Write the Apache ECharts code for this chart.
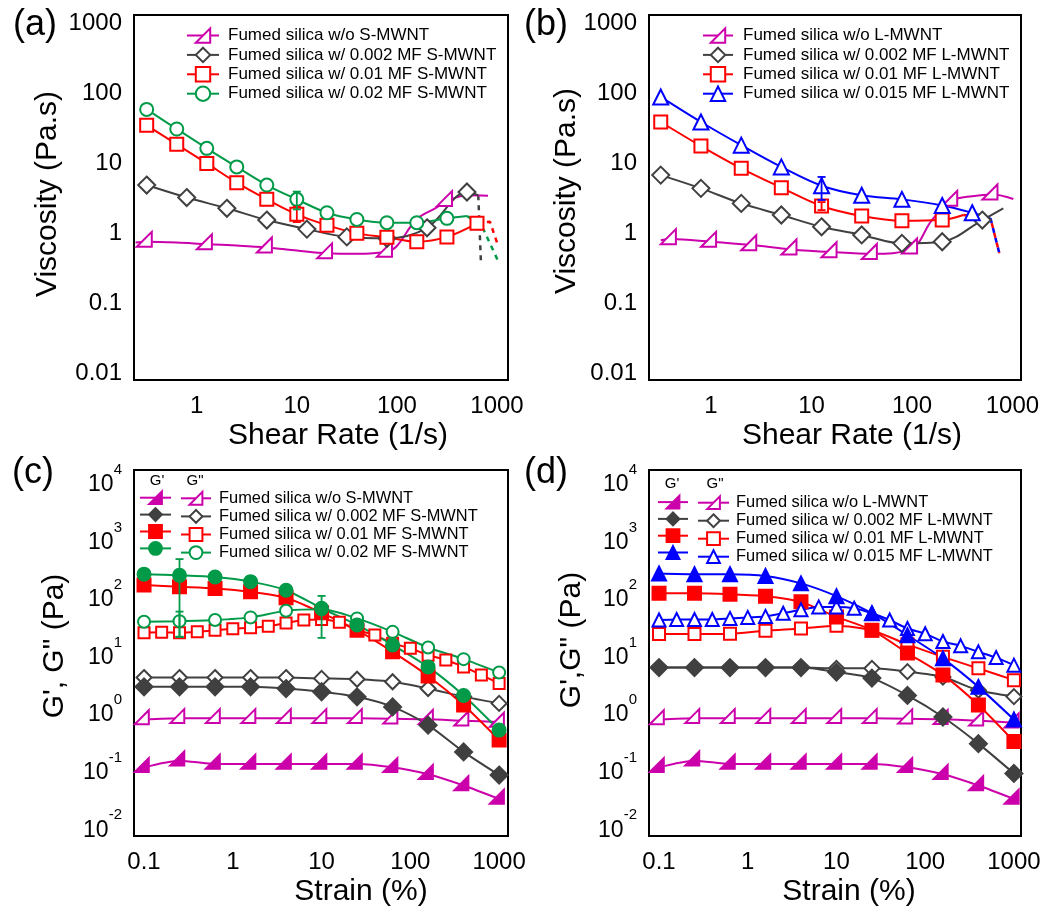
<!DOCTYPE html>
<html><head><meta charset="utf-8">
<script src="https://cdn.jsdelivr.net/npm/echarts@6/dist/echarts.min.js"></script>
<style>html,body{margin:0;padding:0;background:#fff}#c{width:1045px;height:907px}</style>
</head><body><div id="c"></div>
<script>
// ================= DATA =================
// Tick labels
const VISC_TICKS = ['0.01', '0.1', '1', '10', '100', '1000'];      // exponents -2..3
const SHEAR_TICKS = ['1', '10', '100', '1000'];                     // exponents 0..3
const STRAIN_TICKS = ['0.1', '1', '10', '100', '1000'];             // exponents -1..3
const MODULUS_EXPS = ['-2', '-1', '0', '1', '2', '3', '4'];         // 10^-2 .. 10^4

// Legend names
const A_NAMES = ['Fumed silica w/o S-MWNT', 'Fumed silica w/ 0.002 MF S-MWNT', 'Fumed silica w/ 0.01 MF S-MWNT', 'Fumed silica w/ 0.02 MF S-MWNT'];
const B_NAMES = ['Fumed silica w/o L-MWNT', 'Fumed silica w/ 0.002 MF L-MWNT', 'Fumed silica w/ 0.01 MF L-MWNT', 'Fumed silica w/ 0.015 MF L-MWNT'];

// ---- (a) viscosity vs shear rate, S-MWNT ----
const A_PINK_X = [0.316, 1.26, 5.01, 20, 79.4, 316];
const A_PINK_Y = [0.76, 0.70, 0.63, 0.52, 0.55, 2.9];
const A_PINK_CURVE_X = [0.245, 0.631, 2.51, 10, 39.8, 100, 158, 251, 501, 813];
const A_PINK_CURVE_Y = [0.74, 0.74, 0.67, 0.57, 0.51, 0.66, 1.6, 2.35, 3.5, 3.45];

const A_GRAY_X = [0.316, 0.794, 2.0, 5.01, 12.6, 31.6, 79.4, 200, 501];
const A_GRAY_Y = [4.9, 3.25, 2.28, 1.55, 1.15, 0.89, 0.85, 1.2, 3.9];
const A_GRAY_CURVE_X = [650];
const A_GRAY_CURVE_Y = [3.5];
const A_GRAY_DROP_X = [650, 690];
const A_GRAY_DROP_Y = [3.5, 0.41];

const A_RED_X = [0.316, 0.631, 1.26, 2.51, 5.01, 10, 20, 39.8, 79.4, 158, 316, 631];
const A_RED_Y = [35, 18.7, 10, 5.3, 3.06, 1.87, 1.31, 1.0, 0.88, 0.76, 0.89, 1.39];
const A_RED_DROP_X = [631, 850, 1020];
const A_RED_DROP_Y = [1.39, 1.47, 0.68];
const A_RED_ERR_X = [10];
const A_RED_ERR_LO = [1.45];
const A_RED_ERR_HI = [2.4];

const A_GREEN_X = [0.316, 0.631, 1.26, 2.51, 5.01, 10, 20, 39.8, 79.4, 158, 316];
const A_GREEN_Y = [59, 31, 16.4, 8.9, 4.9, 3.06, 1.97, 1.58, 1.42, 1.42, 1.64];
const A_GREEN_CURVE_X = [500];
const A_GREEN_CURVE_Y = [1.77];
const A_GREEN_DROP_X = [500, 700, 1020];
const A_GREEN_DROP_Y = [1.77, 1.31, 0.41];
const A_GREEN_ERR_X = [10];
const A_GREEN_ERR_LO = [2.2];
const A_GREEN_ERR_HI = [3.95];

// ---- (b) viscosity vs shear rate, L-MWNT ----
const B_PINK_X = [0.398, 1.0, 2.51, 6.31, 15.8, 39.8, 100, 251, 631];
const B_PINK_Y = [0.83, 0.76, 0.68, 0.59, 0.54, 0.51, 0.61, 2.93, 3.6];
const B_PINK_CURVE_X = [0.316, 158, 398, 1020];
const B_PINK_CURVE_Y = [0.8, 1.55, 3.4, 3.1];

const B_GRAY_X = [0.316, 0.794, 2.0, 5.01, 12.6, 31.6, 79.4, 200, 501];
const B_GRAY_Y = [6.8, 4.4, 2.68, 1.83, 1.24, 0.95, 0.72, 0.76, 1.55];
const B_GRAY_CURVE_X = [810];
const B_GRAY_CURVE_Y = [2.28];

const B_RED_X = [0.316, 0.794, 2.0, 5.01, 12.6, 31.6, 79.4, 200];
const B_RED_Y = [39, 17.7, 8.5, 4.5, 2.46, 1.77, 1.51, 1.55];
const B_RED_CURVE_X = [324];
const B_RED_CURVE_Y = [1.83];
const B_RED_TAIL_X = [324, 605];
const B_RED_TAIL_Y = [1.83, 1.64];
const B_RED_DROP_X = [605, 740];
const B_RED_DROP_Y = [1.64, 0.52];
const B_RED_ERR_X = [12.6];
const B_RED_ERR_LO = [2.15];
const B_RED_ERR_HI = [2.8];

const B_BLUE_X = [0.316, 0.794, 2.0, 5.01, 12.6, 31.6, 79.4, 200, 398];
const B_BLUE_Y = [89, 39, 18.2, 8.9, 4.8, 3.5, 3.06, 2.5, 1.97];
const B_BLUE_CURVE_X = [605];
const B_BLUE_CURVE_Y = [1.64];
const B_BLUE_DROP_X = [605, 740];
const B_BLUE_DROP_Y = [1.64, 0.52];
const B_BLUE_ERR_X = [12.6];
const B_BLUE_ERR_LO = [3.0];
const B_BLUE_ERR_HI = [6.4];

// ---- (c),(d) strain sweeps ----
const STRAIN_11 = [0.1, 0.251, 0.631, 1.585, 3.98, 10, 25.1, 63.1, 158.5, 398, 1000];
const STRAIN_21 = [0.1, 0.158, 0.251, 0.398, 0.631, 1.0, 1.585, 2.51, 3.98, 6.31, 10, 15.85, 25.1, 39.8, 63.1, 100, 158.5, 251, 398, 631, 1000];

const C_PINK_GP  = [0.124, 0.162, 0.142, 0.142, 0.142, 0.142, 0.142, 0.124, 0.094, 0.06, 0.035];
const C_PINK_GPP = [0.84, 0.88, 0.88, 0.88, 0.88, 0.88, 0.88, 0.87, 0.85, 0.8, 0.76];
const C_GRAY_GP  = [3.1, 3.1, 3.1, 3.1, 2.9, 2.55, 2.08, 1.39, 0.67, 0.23, 0.091];
const C_GRAY_GPP = [4.5, 4.5, 4.5, 4.5, 4.5, 4.35, 4.2, 3.8, 2.9, 2.1, 1.6];
const C_RED_GP   = [182, 170, 159, 139, 110, 60, 30, 12.6, 4.8, 1.5, 0.37];
const C_RED_GPP  = [27, 27.5, 27, 28, 30, 31.6, 33, 35, 40, 45, 46, 41, 30, 24.6, 17.7, 14.5, 11, 9.1, 6.9, 5.0, 3.56]; // 21 pts
const C_GREEN_GP  = [282, 269, 251, 209, 148, 72, 37, 16.6, 6.9, 2.2, 0.55];
const C_GREEN_GPP = [42, 43, 45, 50, 65, 69, 48, 28, 15, 9.4, 5.5];
const C_GREEN_GP_ERR_X  = [0.251, 10];
const C_GREEN_GP_ERR_LO = [23, 22];
const C_GREEN_GP_ERR_HI = [515, 118];
const C_GREEN_GPP_ERR_X  = [0.251];
const C_GREEN_GPP_ERR_LO = [23];
const C_GREEN_GPP_ERR_HI = [63];

const D_PINK_GP  = [0.124, 0.162, 0.142, 0.142, 0.142, 0.142, 0.142, 0.124, 0.094, 0.06, 0.035];
const D_PINK_GPP = [0.84, 0.88, 0.88, 0.88, 0.88, 0.88, 0.88, 0.87, 0.85, 0.8, 0.74];
const D_GRAY_GP  = [6.7, 6.7, 6.7, 6.7, 6.7, 5.6, 4.4, 2.2, 0.93, 0.32, 0.097];
const D_GRAY_GPP = [6.7, 6.7, 6.7, 6.7, 6.7, 6.5, 6.5, 5.7, 4.6, 2.7, 2.1];
const D_RED_GP   = [131, 131, 126, 117, 93, 51, 30, 12, 5, 1.5, 0.35];
const D_RED_GPP  = [25.6, 25.6, 26, 29.4, 32, 35.7, 29.5, 17, 10.3, 6.5, 4.06];
const D_BLUE_GP  = [290, 282, 282, 263, 195, 117, 59, 24.5, 9.7, 3.1, 0.84];
const D_BLUE_GPP = [45, 46, 46, 46, 48, 50, 52, 59, 68, 76, 76, 72, 59, 45, 32, 26, 19, 16, 12.6, 10, 7.4]; // 21 pts

// ================= STYLE / LAYOUT =================
const FONT = '"Liberation Sans", Arial, Helvetica, sans-serif';
const PINK = '#cc00aa', GRAY = '#404040', RED = '#ff0000', GREEN = '#009a48', BLUE = '#0000ff';
const RTRI = 'path://M0,10L10,0L10,10Z';
const LW = 2;

const GRIDS = [
  { left: 134, top: 15, width: 374, height: 365 },
  { left: 649, top: 15, width: 372, height: 365 },
  { left: 134, top: 470, width: 374, height: 366 },
  { left: 649, top: 470, width: 372, height: 366 }
];
const XR = [[-0.627, 3.11], [-0.617, 3.085], [-1.113, 3.10], [-1.113, 3.08]];
const YR = [[-2.095, 3.12], [-2.095, 3.12], [-2.10, 4.26], [-2.10, 4.26]];

function isPow(v) { const e = Math.log10(v); return Math.abs(e - Math.round(e)) < 1e-6 ? Math.round(e) : null; }

function pairs(xs, ys) { return xs.map((x, i) => [x, ys[i]]); }
function withCurve(mx, my, cx, cy) {
  const a = mx.map((x, i) => ({ value: [x, my[i]] }));
  const b = (cx || []).map((x, i) => ({ value: [x, cy[i]], symbol: 'none' }));
  return a.concat(b).sort((p, q) => p.value[0] - q.value[0]);
}

function lineS(name, gi, data, color, symbol, size, hollow, extra) {
  const s = {
    type: 'line', name: name, xAxisIndex: gi, yAxisIndex: gi, data: data,
    smooth: 0.35, symbol: symbol, symbolSize: size, showAllSymbol: true,
    lineStyle: { color: color, width: LW },
    itemStyle: { color: hollow ? '#fff' : color, borderColor: color, borderWidth: LW },
    emphasis: { disabled: true }, animation: false, clip: true, z: 3
  };
  if (symbol === RTRI) { s.symbolOffset = ['-16%', '-16%']; s.symbolKeepAspect = true; }
  return Object.assign(s, extra || {});
}
function dropS(name, gi, xs, ys, color, dashOffset) {
  return {
    type: 'line', name: name, xAxisIndex: gi, yAxisIndex: gi, data: pairs(xs, ys),
    symbol: 'none', smooth: false,
    lineStyle: { color: color, width: 2.5, type: [5, 5], dashOffset: dashOffset || 0 },
    emphasis: { disabled: true }, animation: false, z: 2
  };
}
function errS(name, gi, xs, lo, hi, color) {
  return {
    type: 'custom', name: name, xAxisIndex: gi, yAxisIndex: gi,
    data: xs.map((x, i) => [x, lo[i], hi[i]]),
    encode: { x: 0, y: [1, 2] }, animation: false, z: 4,
    renderItem: function (params, api) {
      const x = api.value(0);
      const p1 = api.coord([x, api.value(1)]);
      const p2 = api.coord([x, api.value(2)]);
      const w = 4, st = { stroke: color, lineWidth: 1.8 };
      return { type: 'group', children: [
        { type: 'line', shape: { x1: p1[0], y1: p1[1], x2: p2[0], y2: p2[1] }, style: st },
        { type: 'line', shape: { x1: p1[0] - w, y1: p1[1], x2: p1[0] + w, y2: p1[1] }, style: st },
        { type: 'line', shape: { x1: p2[0] - w, y1: p2[1], x2: p2[0] + w, y2: p2[1] }, style: st }
      ] };
    }
  };
}

const labelBase = { color: '#000', fontFamily: FONT, fontSize: 24 };
function xAxis(gi, ticks, firstExp) {
  return {
    type: 'log', logBase: 10, gridIndex: gi, position: 'bottom',
    min: Math.pow(10, XR[gi][0]), max: Math.pow(10, XR[gi][1]),
    splitNumber: 5,
    axisLine: { show: false }, axisTick: { show: false }, splitLine: { show: false },
    axisLabel: Object.assign({}, labelBase, { margin: 14, showMinLabel: true, showMaxLabel: true,
      formatter: function (v) { const e = isPow(v); if (e === null) return ''; const t = ticks[e - firstExp]; return t === undefined ? '' : t; } })
  };
}
function yAxisVisc(gi) {
  return {
    type: 'log', logBase: 10, gridIndex: gi,
    min: Math.pow(10, YR[gi][0]), max: Math.pow(10, YR[gi][1]), splitNumber: 6,
    axisLine: { show: false }, axisTick: { show: false }, splitLine: { show: false },
    axisLabel: Object.assign({}, labelBase, { margin: 12,
      formatter: function (v) { const e = isPow(v); if (e === null) return ''; const t = VISC_TICKS[e + 2]; return t === undefined ? '' : t; } })
  };
}
function yAxisMod(gi) {
  return {
    type: 'log', logBase: 10, gridIndex: gi,
    min: Math.pow(10, YR[gi][0]), max: Math.pow(10, YR[gi][1]), splitNumber: 7,
    axisLine: { show: false }, axisTick: { show: false }, splitLine: { show: false },
    axisLabel: { margin: 12, color: '#000', fontFamily: FONT,
      formatter: function (v) { const e = isPow(v); if (e === null) return ''; const t = MODULUS_EXPS[e + 2]; return t === undefined ? '' : '{b|10}{s|' + t + '}'; },
      rich: {
        b: { fontSize: 23, fontFamily: FONT, color: '#000' },
        s: { fontSize: 15, fontFamily: FONT, color: '#000', padding: [0, 0, 30, 0] }
      } }
  };
}

const series = [];
// (a)
series.push(lineS(A_NAMES[0], 0, withCurve(A_PINK_X, A_PINK_Y, A_PINK_CURVE_X, A_PINK_CURVE_Y), PINK, RTRI, 15, true));
series.push(dropS('a_gray_drop', 0, A_GRAY_DROP_X, A_GRAY_DROP_Y, GRAY));
series.push(lineS(A_NAMES[1], 0, withCurve(A_GRAY_X, A_GRAY_Y, A_GRAY_CURVE_X, A_GRAY_CURVE_Y), GRAY, 'diamond', 17, true));
series.push(dropS('a_red_drop', 0, A_RED_DROP_X, A_RED_DROP_Y, RED));
series.push(errS('a_red_err', 0, A_RED_ERR_X, A_RED_ERR_LO, A_RED_ERR_HI, RED));
series.push(lineS(A_NAMES[2], 0, withCurve(A_RED_X, A_RED_Y), RED, 'rect', 13, true));
series.push(dropS('a_green_drop', 0, A_GREEN_DROP_X, A_GREEN_DROP_Y, GREEN));
series.push(errS('a_green_err', 0, A_GREEN_ERR_X, A_GREEN_ERR_LO, A_GREEN_ERR_HI, GREEN));
series.push(lineS(A_NAMES[3], 0, withCurve(A_GREEN_X, A_GREEN_Y, A_GREEN_CURVE_X, A_GREEN_CURVE_Y), GREEN, 'circle', 13, true));
// (b)
series.push(lineS(B_NAMES[0], 1, withCurve(B_PINK_X, B_PINK_Y, B_PINK_CURVE_X, B_PINK_CURVE_Y), PINK, RTRI, 15, true));
series.push(lineS(B_NAMES[1], 1, withCurve(B_GRAY_X, B_GRAY_Y, B_GRAY_CURVE_X, B_GRAY_CURVE_Y), GRAY, 'diamond', 17, true));
series.push(dropS('b_red_tail', 1, B_RED_TAIL_X, B_RED_TAIL_Y, RED));
series.push(errS('b_red_err', 1, B_RED_ERR_X, B_RED_ERR_LO, B_RED_ERR_HI, RED));
series.push(lineS(B_NAMES[2], 1, withCurve(B_RED_X, B_RED_Y, B_RED_CURVE_X, B_RED_CURVE_Y), RED, 'rect', 13, true));
series.push(dropS('b_blue_drop', 1, B_BLUE_DROP_X, B_BLUE_DROP_Y, BLUE, 0));
series.push(dropS('b_red_drop', 1, B_RED_DROP_X, B_RED_DROP_Y, RED, 5));
series.push(errS('b_blue_err', 1, B_BLUE_ERR_X, B_BLUE_ERR_LO, B_BLUE_ERR_HI, BLUE));
series.push(lineS(B_NAMES[3], 1, withCurve(B_BLUE_X, B_BLUE_Y, B_BLUE_CURVE_X, B_BLUE_CURVE_Y), BLUE, 'triangle', 15, true));
// (c)
const sm = { smooth: 0.25 };
series.push(lineS(A_NAMES[0], 2, pairs(STRAIN_11, C_PINK_GPP), PINK, RTRI, 14, true, sm));
series.push(lineS("c_gp_0", 2, pairs(STRAIN_11, C_PINK_GP), PINK, RTRI, 14, false, sm));
series.push(lineS(A_NAMES[1], 2, pairs(STRAIN_11, C_GRAY_GPP), GRAY, 'diamond', 15, true, sm));
series.push(lineS("c_gp_1", 2, pairs(STRAIN_11, C_GRAY_GP), GRAY, 'diamond', 17, false, sm));
series.push(lineS(A_NAMES[2], 2, pairs(STRAIN_21, C_RED_GPP), RED, 'rect', 11, true, sm));
series.push(lineS("c_gp_2", 2, pairs(STRAIN_11, C_RED_GP), RED, 'rect', 13, false, sm));
series.push(errS('c_green_err2', 2, C_GREEN_GPP_ERR_X, C_GREEN_GPP_ERR_LO, C_GREEN_GPP_ERR_HI, GREEN));
series.push(lineS(A_NAMES[3], 2, pairs(STRAIN_11, C_GREEN_GPP), GREEN, 'circle', 12, true, sm));
series.push(errS('c_green_err1', 2, C_GREEN_GP_ERR_X, C_GREEN_GP_ERR_LO, C_GREEN_GP_ERR_HI, GREEN));
series.push(lineS("c_gp_3", 2, pairs(STRAIN_11, C_GREEN_GP), GREEN, 'circle', 13, false, sm));
// (d)
series.push(lineS(B_NAMES[0], 3, pairs(STRAIN_11, D_PINK_GPP), PINK, RTRI, 14, true, sm));
series.push(lineS("d_gp_0", 3, pairs(STRAIN_11, D_PINK_GP), PINK, RTRI, 14, false, sm));
series.push(lineS(B_NAMES[1], 3, pairs(STRAIN_11, D_GRAY_GPP), GRAY, 'diamond', 15, true, sm));
series.push(lineS("d_gp_1", 3, pairs(STRAIN_11, D_GRAY_GP), GRAY, 'diamond', 17, false, sm));
series.push(lineS(B_NAMES[2], 3, pairs(STRAIN_11, D_RED_GPP), RED, 'rect', 12, true, sm));
series.push(lineS("d_gp_2", 3, pairs(STRAIN_11, D_RED_GP), RED, 'rect', 13, false, sm));
series.push(lineS(B_NAMES[3], 3, pairs(STRAIN_21, D_BLUE_GPP), BLUE, 'triangle', 13, true, sm));
series.push(lineS("d_gp_3", 3, pairs(STRAIN_11, D_BLUE_GP), BLUE, 'triangle', 14, false, sm));

function legend(names, left, top, itemW, itemH, gap, fs, padL, noText) {
  return {
    data: names, orient: 'vertical', left: left, top: top, padding: 0,
    itemWidth: itemW, itemHeight: itemH, itemGap: gap, selectedMode: false,
    textStyle: { fontSize: fs, fontFamily: FONT, color: '#000', lineHeight: itemH, padding: [0, 0, 0, padL] },
    formatter: noText ? function () { return ''; } : '{name}'
  };
}

function txt(x, y, s, size, rot) {
  return { type: 'text', x: x, y: y, rotation: rot || 0, silent: true,
    style: { text: s, fontSize: size, fontFamily: FONT, fill: '#000', align: 'center', verticalAlign: 'middle' } };
}

const option = {
  backgroundColor: '#fff',
  animation: false,
  grid: GRIDS.map(g => Object.assign({ show: true, borderColor: '#000', borderWidth: 2, backgroundColor: 'transparent', containLabel: false, outerBoundsMode: 'none' }, g)),
  xAxis: [xAxis(0, SHEAR_TICKS, 0), xAxis(1, SHEAR_TICKS, 0), xAxis(2, STRAIN_TICKS, -1), xAxis(3, STRAIN_TICKS, -1)],
  yAxis: [yAxisVisc(0), yAxisVisc(1), yAxisMod(2), yAxisMod(3)],
  legend: [
    legend(A_NAMES, 186, 26.5, 32, 18, 1.4, 17, 4, false),
    legend(B_NAMES, 702, 26.5, 30, 18, 1.4, 17, 5, false),
    legend(['c_gp_0', 'c_gp_1', 'c_gp_2', 'c_gp_3'], 139, 490.3, 31, 16, 2.1, 16.4, 0, true),
    legend(A_NAMES, 180, 490.3, 30, 16, 2.1, 16.4, 3, false),
    legend(['d_gp_0', 'd_gp_1', 'd_gp_2', 'd_gp_3'], 657, 494.7, 30, 16, 2.0, 16.4, 0, true),
    legend(B_NAMES, 697, 494.7, 31, 16, 2.0, 16.4, 2, false)
  ],
  graphic: [
    txt(35, 25, '(a)', 36), txt(546, 25, '(b)', 36), txt(33, 473, '(c)', 36), txt(546, 473, '(d)', 36),
    txt(48, 194, 'Viscosity (Pa.s)', 30, Math.PI / 2),
    txt(567, 191, 'Viscosity (Pa.s)', 30, Math.PI / 2),
    txt(338, 436, 'Shear Rate (1/s)', 30),
    txt(852, 436, 'Shear Rate (1/s)', 30),
    txt(55, 646, 'G\', G" (Pa)', 30, Math.PI / 2),
    txt(572, 640, 'G\',G" (Pa)', 30, Math.PI / 2),
    txt(361, 892, 'Strain (%)', 30),
    txt(849, 892, 'Strain (%)', 30),
    txt(157, 481, 'G\'', 15), txt(195, 481, 'G"', 15),
    txt(672, 484, 'G\'', 15), txt(715, 484, 'G"', 15)
  ],
  series: series
};

const chart = echarts.init(document.getElementById('c'), null, { renderer: 'canvas' });
chart.setOption(option);
</script>
</body></html>
